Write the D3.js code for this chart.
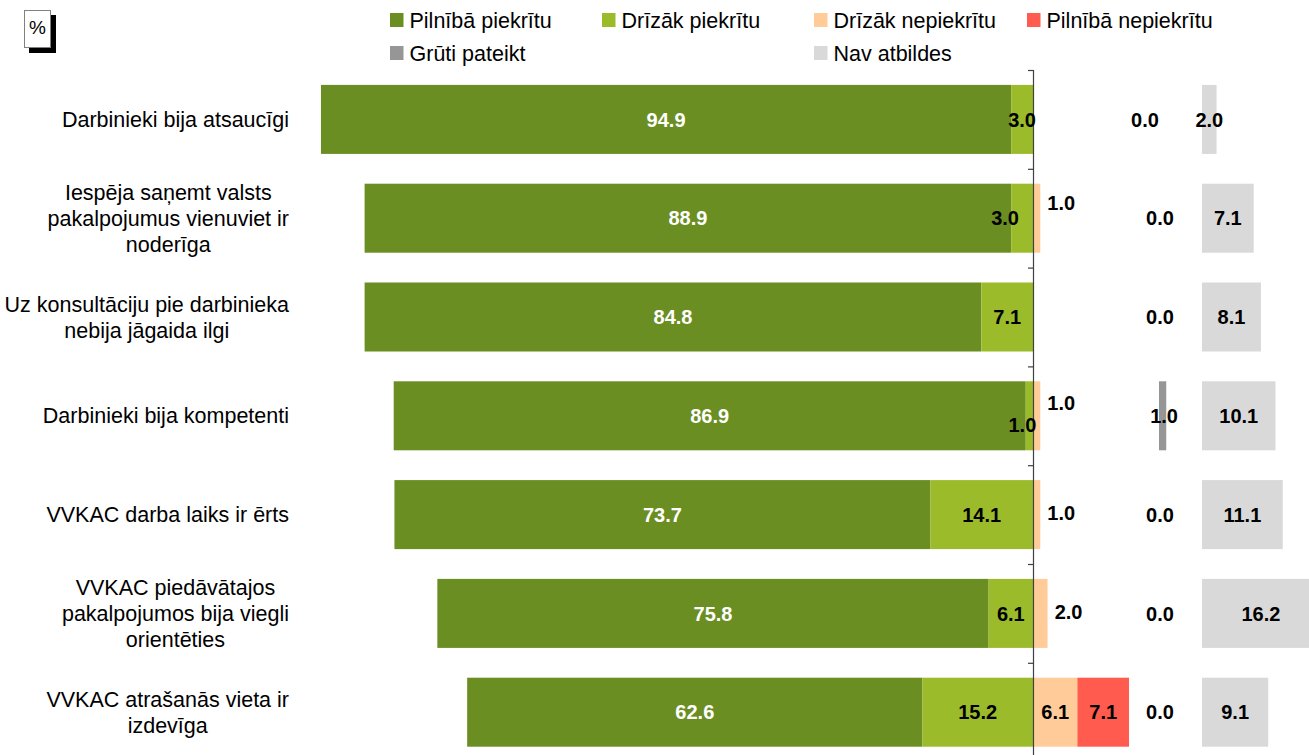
<!DOCTYPE html>
<html>
<head>
<meta charset="utf-8">
<script src="https://cdn.jsdelivr.net/npm/d3@7"></script>
<style>
  html, body { margin: 0; padding: 0; background: #fff; }
  svg { display: block; font-family: "Liberation Sans", Arial, sans-serif; }
</style>
</head>
<body>
<svg id="chart" width="1309" height="755"></svg>
<script>
// ---------- data ----------
const categories = [
  "Darbinieki bija atsaucīgi",
  "Iespēja saņemt valsts\npakalpojumus vienuviet ir\nnoderīga",
  "Uz konsultāciju pie darbinieka\nnebija jāgaida ilgi",
  "Darbinieki bija kompetenti",
  "VVKAC darba laiks ir ērts",
  "VVKAC piedāvātajos\npakalpojumos bija viegli\norientēties",
  "VVKAC atrašanās vieta ir\nizdevīga"
];
const seriesNames = ["Pilnībā piekrītu", "Drīzāk piekrītu", "Drīzāk nepiekrītu", "Pilnībā nepiekrītu", "Grūti pateikt", "Nav atbildes"];
const pilnibaPiekritu   = [94.9, 88.9, 84.8, 86.9, 73.7, 75.8, 62.6];
const drizakPiekritu    = [3.0, 3.0, 7.1, 1.0, 14.1, 6.1, 15.2];
const drizakNepiekritu  = [0.0, 1.0, 0.0, 1.0, 1.0, 2.0, 6.1];
const pilnibaNepiekritu = [0.0, 0.0, 0.0, 0.0, 0.0, 0.0, 7.1];
const grutiPateikt      = [0.0, 0.0, 0.0, 1.0, 0.0, 0.0, 0.0];
const navAtbildes       = [2.0, 7.1, 8.1, 10.1, 11.1, 16.2, 9.1];
const unitLabel = "%";

// ---------- style / layout ----------
const colors = ["#6B8E23", "#9BBB2A", "#FFCC99", "#FF5B4F", "#969696", "#D9D9D9"];
const fmt = d3.format(".1f");
const svg = d3.select("#chart");

const zeroX = 1033, pxPerUnit = 7.273;
const x = d3.scaleLinear().domain([0, 10]).range([zeroX, zeroX + 10 * pxPerUnit]);
const grutiOffset = 17.32;   // Grūti pateikt column start (in value units from zero)
const navOffset = 23.24;     // Nav atbildes column start

const y = d3.scaleBand().domain(d3.range(categories.length))
  .range([70, 761.6]).paddingInner(0.3016).paddingOuter(0.1508);
const bw = y.bandwidth();

// label nudges (manual label placement as in the original)
const lightNudgeX = {1: -17, 3: -7};
const lightNudgeY = {3: 9};
const peachNudgeY = {1: -15, 3: -13, 4: -2, 5: -2};
const grutiNudgeX = {0: -15};

// build segments
const segs = [];
categories.forEach((c, i) => {
  const dg = pilnibaPiekritu[i], lg = drizakPiekritu[i];
  const pe = drizakNepiekritu[i], rd = pilnibaNepiekritu[i];
  segs.push({i, s: 0, x0: -(dg + lg), x1: -lg, v: dg});
  segs.push({i, s: 1, x0: -lg, x1: 0, v: lg});
  segs.push({i, s: 2, x0: 0, x1: pe, v: pe});
  segs.push({i, s: 3, x0: pe, x1: pe + rd, v: rd});
  segs.push({i, s: 4, x0: grutiOffset, x1: grutiOffset + grutiPateikt[i], v: grutiPateikt[i]});
  segs.push({i, s: 5, x0: navOffset, x1: navOffset + navAtbildes[i], v: navAtbildes[i]});
});

svg.append("g").selectAll("rect").data(segs.filter(d => d.v > 0)).join("rect")
  .attr("x", d => x(d.x0))
  .attr("y", d => y(d.i))
  .attr("width", d => x(d.x1) - x(d.x0))
  .attr("height", bw)
  .attr("fill", d => colors[d.s]);

// axis line with ticks at category boundaries
const axisG = svg.append("g");
axisG.append("line").attr("x1", zeroX + 0.5).attr("x2", zeroX + 0.5)
  .attr("y1", y.range()[0]).attr("y2", y.range()[1])
  .attr("stroke", "#404040").attr("stroke-width", 1.2);
const bounds = d3.range(categories.length + 1).map(k => y.range()[0] + k * y.step());
axisG.selectAll("line.tick").data(bounds).join("line").attr("class", "tick")
  .attr("x1", zeroX - 5).attr("x2", zeroX + 0.5)
  .attr("y1", d => d + 0.5).attr("y2", d => d + 0.5)
  .attr("stroke", "#404040").attr("stroke-width", 1.2);

// value labels
const labels = [];
segs.forEach(d => {
  const cy = y(d.i) + bw / 2;
  const mid = (x(d.x0) + x(d.x1)) / 2;
  if (d.s === 0) labels.push({x: mid, y: cy, t: fmt(d.v), fill: "#fff"});
  else if (d.s === 1) labels.push({x: mid + (lightNudgeX[d.i] || 0), y: cy + (lightNudgeY[d.i] || 0), t: fmt(d.v), fill: "#000"});
  else if (d.s === 2 && d.v > 0) {
    const w = x(d.x1) - x(d.x0);
    if (w < 30) labels.push({x: x(d.x1) + 21, y: cy + (peachNudgeY[d.i] || 0), t: fmt(d.v), fill: "#000"});
    else labels.push({x: mid, y: cy, t: fmt(d.v), fill: "#000"});
  }
  else if (d.s === 3 && d.v > 0) labels.push({x: mid, y: cy, t: fmt(d.v), fill: "#000"});
  else if (d.s === 4) labels.push({x: mid + (d.v === 0 ? 1 : 1.5) + (grutiNudgeX[d.i] || 0), y: cy, t: fmt(d.v), fill: "#000"});
  else if (d.s === 5) labels.push({x: mid, y: cy, t: fmt(d.v), fill: "#000"});
});
svg.append("g").selectAll("text").data(labels).join("text")
  .attr("x", d => d.x).attr("y", d => d.y).attr("dy", "0.36em")
  .attr("text-anchor", "middle")
  .attr("font-size", 20).attr("font-weight", "bold")
  .attr("fill", d => d.fill).text(d => d.t);

// category labels (right-aligned block, centered lines)
const catG = svg.append("g");
categories.forEach((c, i) => {
  const lines = c.split("\n");
  const lh = 26;
  const cy = y(i) + bw / 2;
  const t = catG.append("text").attr("font-size", 21.5).attr("fill", "#000").attr("text-anchor", "middle");
  const tspans = lines.map((l, k) => t.append("tspan")
    .attr("y", cy + (k - (lines.length - 1) / 2) * lh).attr("dy", "0.35em").text(l));
  const maxW = d3.max(tspans, s => s.node().getComputedTextLength());
  const cx = 289 - maxW / 2;
  tspans.forEach(s => s.attr("x", cx));
});

// legend
const legendItems = [
  {s: 0, x: 390, y: 20}, {s: 1, x: 602, y: 20}, {s: 2, x: 814, y: 20}, {s: 3, x: 1027, y: 20},
  {s: 4, x: 390, y: 53}, {s: 5, x: 814, y: 53}
];
const lg = svg.append("g").selectAll("g").data(legendItems).join("g")
  .attr("transform", d => `translate(${d.x},${d.y})`);
lg.append("rect").attr("x", 0).attr("y", -7).attr("width", 13.5).attr("height", 14)
  .attr("fill", d => colors[d.s]);
lg.append("text").attr("x", 19.5).attr("y", 0).attr("dy", "0.35em")
  .attr("font-size", 21.5).attr("fill", "#000").text(d => seriesNames[d.s]);

// percent box
const pg = svg.append("g");
pg.append("rect").attr("x", 29).attr("y", 15).attr("width", 27).attr("height", 38).attr("fill", "#000");
pg.append("rect").attr("x", 24.5).attr("y", 10.5).attr("width", 26).attr("height", 37)
  .attr("fill", "#fff").attr("stroke", "#808080").attr("stroke-width", 1);
pg.append("text").attr("x", 37.5).attr("y", 34).attr("text-anchor", "middle")
  .attr("font-size", 19).attr("fill", "#000").text(unitLabel);
</script>
</body>
</html>
